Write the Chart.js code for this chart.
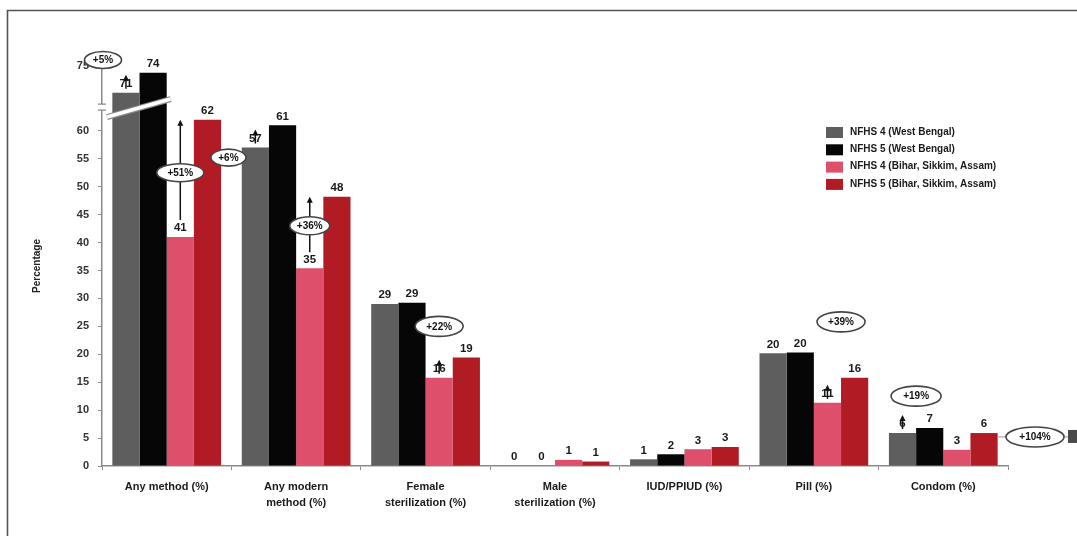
<!DOCTYPE html>
<html>
<head>
<meta charset="utf-8">
<script src="https://cdn.jsdelivr.net/npm/chart.js@4/dist/chart.umd.min.js"></script>
<style>
  html, body { margin: 0; padding: 0; background: #fff; }
  #wrap { width: 1077px; height: 536px; position: relative; }
</style>
</head>
<body>
<div id="wrap"><canvas id="chart"></canvas></div>
<script>
const categories = [
  'Any method (%)',
  ['Any modern', 'method (%)'],
  ['Female', 'sterilization (%)'],
  ['Male', 'sterilization (%)'],
  'IUD/PPIUD (%)',
  'Pill (%)',
  'Condom (%)',
];
const seriesNames = [
  'NFHS 4 (West Bengal)',
  'NFHS 5 (West Bengal)',
  'NFHS 4 (Bihar, Sikkim, Assam)',
  'NFHS 5 (Bihar, Sikkim, Assam)',
];
const nfhs4WestBengal = [71, 57, 29, 0, 1.2, 20.2, 5.9];
const nfhs5WestBengal = [74, 61, 29.2, 0, 2.1, 20.3, 6.8];
const nfhs4Others = [41, 35.4, 15.8, 1.1, 3.0, 11.3, 2.9];
const nfhs5Others = [62, 48.2, 19.4, 0.8, 3.4, 15.8, 5.9];
const yTicks = [0, 5, 10, 15, 20, 25, 30, 35, 40, 45, 50, 55, 60, 75];

const colors = ['#5e5e5e', '#060606', '#de4f6c', '#b11c24'];
const FONT = "'Liberation Sans', Arial, sans-serif";

// axis is broken between 63 and 68; values above are squeezed a little
const BREAK_LO = 63, BREAK_HI = 68, GAP = 0.2, UPPER_K = 1.2;
function squash(v) {
  if (v <= BREAK_LO) return v;
  if (v < BREAK_HI) return BREAK_LO + (v - BREAK_LO) / (BREAK_HI - BREAK_LO) * GAP;
  return BREAK_LO + GAP + (v - BREAK_HI) * UPPER_K;
}

class BrokenLinearScale extends Chart.LinearScale {
  static id = 'brokenLinear';
  static defaults = Chart.LinearScale.defaults;
  buildTicks() {
    return yTicks.map((v) => ({ value: v }));
  }
  getPixelForValue(v) {
    return this.getPixelForDecimal(squash(v) / squash(this.max));
  }
  getValueForPixel(p) {
    const t = this.getDecimalForPixel(p) * squash(this.max);
    if (t <= BREAK_LO) return t;
    return BREAK_HI + (t - BREAK_LO - GAP) / UPPER_K;
  }
}
Chart.register(BrokenLinearScale);

function ellipseLabel(ctx, cx, cy, w, h, text) {
  ctx.save();
  ctx.beginPath();
  ctx.ellipse(cx, cy, w / 2, h / 2, 0, 0, Math.PI * 2);
  ctx.fillStyle = '#fff';
  ctx.fill();
  ctx.lineWidth = 1.6;
  ctx.strokeStyle = '#444';
  ctx.stroke();
  ctx.fillStyle = '#111';
  ctx.font = `bold 10px ${FONT}`;
  ctx.textAlign = 'center';
  ctx.textBaseline = 'middle';
  ctx.fillText(text, cx, cy + 0.5);
  ctx.restore();
}

function upArrow(ctx, x, yFrom, yTo) {
  ctx.save();
  ctx.strokeStyle = '#111';
  ctx.fillStyle = '#111';
  ctx.lineWidth = 1.5;
  ctx.beginPath();
  ctx.moveTo(x, yFrom);
  ctx.lineTo(x, yTo + 4);
  ctx.stroke();
  ctx.beginPath();
  ctx.moveTo(x, yTo);
  ctx.lineTo(x - 3, yTo + 6);
  ctx.lineTo(x + 3, yTo + 6);
  ctx.closePath();
  ctx.fill();
  ctx.restore();
}

const decorations = {
  id: 'decorations',
  beforeDraw(chart) {
    const { ctx } = chart;
    ctx.save();
    ctx.strokeStyle = '#555';
    ctx.lineWidth = 1.6;
    ctx.beginPath();
    ctx.moveTo(7.5, 536);
    ctx.lineTo(7.5, 10.5);
    ctx.lineTo(1077, 10.5);
    ctx.stroke();
    ctx.restore();
  },
  afterDatasetsDraw(chart) {
    const { ctx, chartArea } = chart;
    const y = chart.scales.y;
    const x = chart.scales.x;
    const bar = (d, i) => chart.getDatasetMeta(d).data[i];

    // value labels
    ctx.save();
    ctx.font = `bold 11.5px ${FONT}`;
    ctx.fillStyle = '#1a1a1a';
    ctx.textAlign = 'center';
    ctx.textBaseline = 'bottom';
    chart.data.datasets.forEach((ds, d) => {
      ds.data.forEach((v, i) => {
        const b = bar(d, i);
        ctx.fillText(String(Math.round(v)), b.x, b.y - 3);
      });
    });
    ctx.restore();

    // axis break slash
    const yb = y.getPixelForValue(BREAK_LO);
    const b1 = bar(1, 0);
    ctx.save();
    ctx.lineCap = 'butt';
    ctx.strokeStyle = '#8a8a8a';
    ctx.lineWidth = 6;
    ctx.beginPath();
    ctx.moveTo(chartArea.left + 5, yb + 3);
    ctx.lineTo(b1.x + b1.width / 2 + 4, yb - 15);
    ctx.stroke();
    ctx.strokeStyle = '#fff';
    ctx.lineWidth = 3.5;
    ctx.stroke();
    ctx.strokeStyle = '#fff';
    ctx.lineWidth = 4;
    ctx.beginPath();
    ctx.moveTo(chartArea.left, yb - 4);
    ctx.lineTo(chartArea.left, yb - 10);
    ctx.stroke();
    ctx.strokeStyle = '#8a8a8a';
    ctx.lineWidth = 1.3;
    ctx.beginPath();
    ctx.moveTo(chartArea.left - 4, yb - 4);
    ctx.lineTo(chartArea.left + 4, yb - 4);
    ctx.moveTo(chartArea.left - 4, yb - 10);
    ctx.lineTo(chartArea.left + 4, yb - 10);
    ctx.stroke();
    ctx.restore();

    // small arrows sitting on some value labels
    [[0, 0], [0, 1], [2, 2], [2, 5], [0, 6]].forEach(([d, i]) => {
      const b = bar(d, i);
      upArrow(ctx, b.x, b.y - 4, b.y - 18);
    });

    // +51% arrow and label
    const p0 = bar(2, 0);
    upArrow(ctx, p0.x, p0.y - 17, y.getPixelForValue(nfhs5Others[0]));
    ellipseLabel(ctx, p0.x, y.getPixelForValue(52.5), 47, 18, '+51%');

    // +36% arrow and label
    const p1 = bar(2, 1);
    upArrow(ctx, p1.x, p1.y - 16, y.getPixelForValue(nfhs5Others[1]));
    ellipseLabel(ctx, p1.x, y.getPixelForValue(43), 40, 18, '+36%');

    const gapX = (x.getPixelForValue(0) + x.getPixelForValue(1)) / 2;
    ellipseLabel(ctx, gapX - 3, y.getPixelForValue(55.2), 35, 17, '+6%');
    ellipseLabel(ctx, chartArea.left + 1, chartArea.top - 6, 37, 17, '+5%');
    ellipseLabel(ctx, bar(2, 2).x, y.getPixelForValue(25), 48, 20, '+22%');
    const pr = bar(2, 5);
    ellipseLabel(ctx, pr.x + pr.width / 2, y.getPixelForValue(25.8), 48, 20, '+39%');
    const cg = bar(0, 6);
    ellipseLabel(ctx, cg.x + cg.width / 2, y.getPixelForValue(12.5), 50, 20, '+19%');

    // +104% off to the right of the axis
    const cr = bar(3, 6);
    const ly = y.getPixelForValue(5.2);
    const ex = chartArea.right + 27;
    ctx.save();
    ctx.strokeStyle = '#9a9a9a';
    ctx.lineWidth = 1;
    ctx.beginPath();
    ctx.moveTo(cr.x + cr.width / 2, ly);
    ctx.lineTo(1077, ly);
    ctx.stroke();
    ctx.fillStyle = '#4a4a4a';
    ctx.fillRect(1068, ly - 7, 9, 13);
    ctx.restore();
    ellipseLabel(ctx, ex, ly, 58, 20, '+104%');

    // legend
    ctx.save();
    ctx.font = `bold 10px ${FONT}`;
    ctx.textAlign = 'left';
    ctx.textBaseline = 'middle';
    seriesNames.forEach((name, k) => {
      const cy = 132 + k * 17.3;
      ctx.fillStyle = colors[k];
      ctx.fillRect(826, cy - 5, 17, 11);
      ctx.fillStyle = '#1a1a1a';
      ctx.fillText(name, 850, cy);
    });
    ctx.restore();
  },
};

const seriesValues = [nfhs4WestBengal, nfhs5WestBengal, nfhs4Others, nfhs5Others];

new Chart(document.getElementById('chart'), {
  type: 'bar',
  data: {
    labels: categories,
    datasets: seriesValues.map((vals, k) => ({
      label: seriesNames[k],
      data: vals,
      backgroundColor: colors[k],
      borderWidth: 0,
      categoryPercentage: 0.84,
      barPercentage: 1.0,
    })),
  },
  options: {
    responsive: true,
    maintainAspectRatio: false,
    animation: false,
    layout: { padding: { top: 66, right: 69, left: 0, bottom: 0 } },
    plugins: {
      legend: { display: false },
      tooltip: { enabled: false },
    },
    scales: {
      y: {
        type: 'brokenLinear',
        min: 0,
        max: 75,
        border: { display: true, color: '#8a8a8a', width: 1.5 },
        grid: { drawOnChartArea: false, tickLength: 4, color: '#8a8a8a', lineWidth: 1 },
        ticks: {
          color: '#333', padding: 9, autoSkip: false,
          font: { family: FONT, size: 11, weight: 'bold' },
          callback: (v) => String(v),
        },
        title: {
          display: true, text: 'Percentage', color: '#222',
          font: { family: FONT, size: 10, weight: 'bold' },
          padding: { top: 31, bottom: 0 },
        },
        afterFit: (s) => { s.width = 102; },
      },
      x: {
        border: { display: true, color: '#8a8a8a', width: 1.5 },
        grid: { drawOnChartArea: false, tickLength: 4, color: '#8a8a8a', offset: true },
        ticks: {
          color: '#1a1a1a', padding: 9, maxRotation: 0, autoSkip: false,
          font: { family: FONT, size: 11, weight: 'bold', lineHeight: 1.45 },
        },
        afterFit: (s) => { s.height = 70; },
      },
    },
  },
  plugins: [decorations],
});
</script>
</body>
</html>
